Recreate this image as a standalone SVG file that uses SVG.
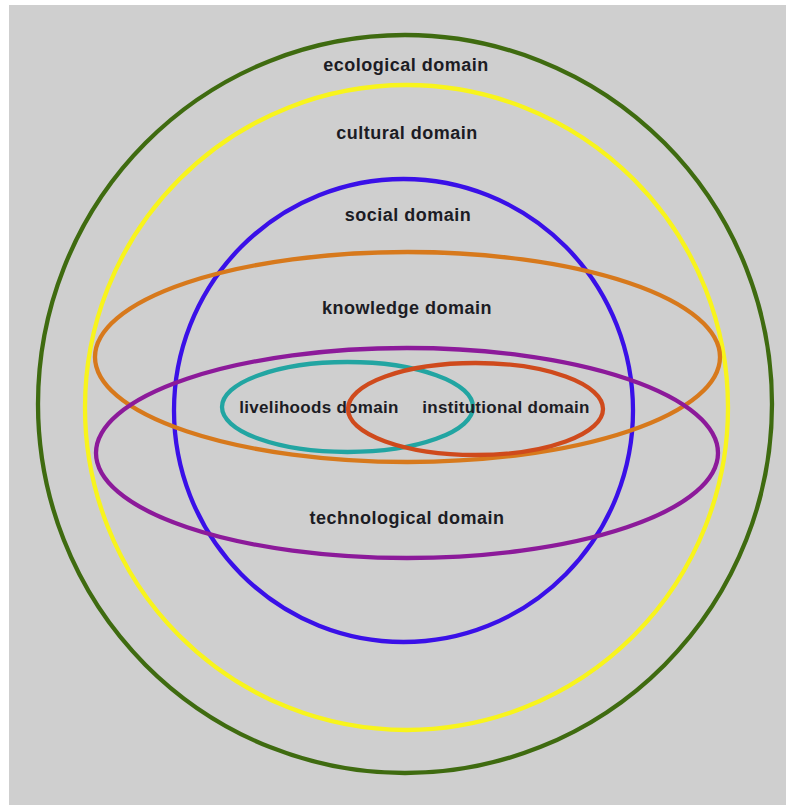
<svg xmlns="http://www.w3.org/2000/svg" width="786" height="805" viewBox="0 0 786 805">
  <style>
    .ring { fill: none; stroke-width: 4.3; }
    .label { font-family: "Liberation Sans", Arial, sans-serif; font-size: 18px; font-weight: bold; fill: #1c1c24; text-anchor: middle; letter-spacing: 0.5px; }
    .small { font-size: 17px; letter-spacing: 0.3px; }
  </style>
  <rect x="0" y="0" width="786" height="805" fill="#ffffff"/>
  <rect x="9" y="5" width="777" height="800" fill="#cfcfcf"/>

  <g id="ecological">
    <ellipse class="ring" cx="405" cy="404" rx="367" ry="369" stroke="#3f6b10"/>
    <text class="label" x="406" y="71">ecological domain</text>
  </g>
  <g id="cultural">
    <ellipse class="ring" cx="406.5" cy="407.5" rx="321.5" ry="322.5" stroke="#f8f41c"/>
    <text class="label" x="407" y="139">cultural domain</text>
  </g>
  <g id="social">
    <ellipse class="ring" cx="403.5" cy="410.5" rx="229.5" ry="231.5" stroke="#3a10e8"/>
    <text class="label" x="408" y="221">social domain</text>
  </g>
  <g id="knowledge">
    <ellipse class="ring" cx="407.5" cy="357" rx="312.5" ry="105" stroke="#d7791c"/>
    <text class="label" x="407" y="314">knowledge domain</text>
  </g>
  <g id="technological">
    <ellipse class="ring" cx="407" cy="453" rx="311" ry="105" stroke="#8c1a9a"/>
    <text class="label" x="407" y="524">technological domain</text>
  </g>
  <g id="livelihoods">
    <text class="label small" x="319" y="413">livelihoods domain</text>
    <ellipse class="ring" cx="347.5" cy="407" rx="125.5" ry="45" stroke="#22a5a2"/>
  </g>
  <g id="institutional">
    <text class="label small" x="506" y="413">institutional domain</text>
    <ellipse class="ring" cx="475.5" cy="409" rx="127.5" ry="46" stroke="#cf4a1c"/>
  </g>
</svg>
